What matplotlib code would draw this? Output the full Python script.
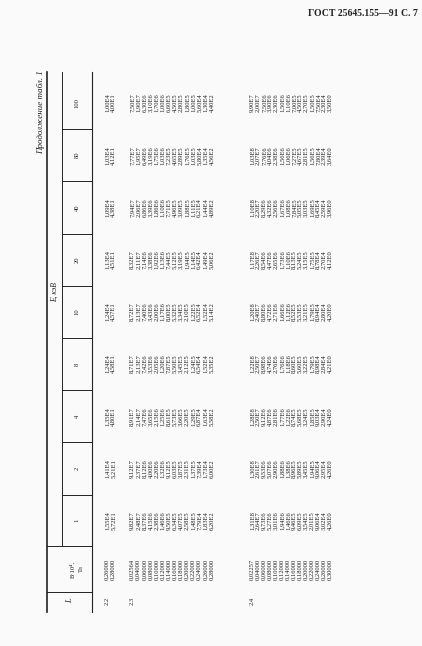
import matplotlib.pyplot as plt
from matplotlib.lines import Line2D

# table data (strings as printed, decimal comma)
energies = ['100', '80', '40', '20', '10', '8', '4', '2', '1']
groups = ['2.2', '2.3', '2.4']

b_22 = ['0,26000', '0,28000']
b_23 = ['0,02564', '0,04000', '0,06000', '0,08000', '0,10000', '0,12000', '0,14000',
        '0,16000', '0,18000', '0,20000', '0,22000', '0,24000', '0,26000', '0,28000']
b_24 = ['0,02257', '0,04000', '0,06000', '0,08000', '0,10000', '0,12000', '0,14000',
        '0,16000', '0,18000', '0,20000', '0,22000', '0,24000', '0,26000', '0,30000']

# columns in order 1, 2, 4, 8, 10, 20, 40, 80, 100
v_22 = [
    ['1,55E4', '5,72E1'], ['1,41E4', '5,21E1'], ['1,35E4', '4,80E1'],
    ['1,24E4', '4,58E1'], ['1,24E4', '4,57E1'], ['1,13E4', '4,51E1'],
    ['1,09E4', '4,38E1'], ['1,03E4', '4,12E1'], ['1,00E4', '4,00E1'],
]
v_23 = [
    '9,82E7 2,48E7 8,37E6 4,15E6 2,38E6 1,46E6 9,50E5 6,34E5 4,07E5 2,58E5 1,48E5 7,79E4 1,83E4 6,20E2'.split(),
    '9,12E7 2,37E7 8,12E6 4,00E6 2,20E6 1,32E6 9,12E5 6,03E5 3,87E5 2,31E5 1,37E5 7,39E4 1,73E4 6,00E2'.split(),
    '8,91E7 2,14E7 7,47E6 3,65E6 2,15E6 1,25E6 8,61E5 5,73E5 3,66E5 2,20E5 1,29E5 6,87E4 1,63E4 5,58E2'.split(),
    '8,71E7 2,13E7 7,42E6 3,53E6 2,05E6 1,20E6 7,87E5 5,50E5 3,45E5 2,12E5 1,24E5 6,54E4 1,52E4 5,35E2'.split(),
    '8,72E7 2,13E7 7,40E6 3,43E6 2,00E6 1,17E6 8,00E5 5,32E5 3,34E5 2,10E5 1,22E5 6,52E4 1,52E4 5,14E2'.split(),
    '8,32E7 2,11E7 7,14E6 3,38E6 1,92E6 1,13E6 7,44E5 5,12E5 3,19E5 1,94E5 1,14E5 6,42E4 1,49E4 5,06E2'.split(),
    '7,94E7 2,06E7 6,86E6 3,39E6 1,86E6 1,10E6 7,71E5 4,96E5 3,09E5 1,88E5 1,11E5 6,21E4 1,44E4 4,89E2'.split(),
    '7,77E7 1,95E7 6,49E6 3,19E6 1,75E6 1,03E6 7,23E5 4,65E5 2,89E5 1,76E5 1,03E5 5,80E4 1,35E4 4,56E2'.split(),
    '7,50E7 1,90E7 6,30E6 3,10E6 1,70E6 1,00E6 6,60E5 4,50E5 2,80E5 1,80E5 1,00E5 5,60E4 1,30E4 4,40E2'.split(),
]
v_24 = [
    '1,31E8 2,64E7 9,73E6 5,27E6 3,01E6 1,94E6 1,46E6 9,46E5 6,09E5 3,54E5 2,01E5 9,06E4 3,02E4 4,26E0'.split(),
    '1,30E8 2,61E7 9,53E6 5,07E6 2,90E6 1,88E6 1,38E6 8,96E5 5,89E5 3,45E5 1,94E5 9,06E4 2,95E4 4,26E0'.split(),
    '1,28E8 2,50E7 9,12E6 4,87E6 2,81E6 1,77E6 1,22E6 8,74E5 5,68E5 3,24E5 1,85E5 9,03E4 2,90E4 4,24E0'.split(),
    '1,22E8 2,50E7 8,98E6 4,74E6 2,76E6 1,76E6 1,18E6 8,60E5 5,60E5 3,22E5 1,79E5 8,98E4 2,84E4 4,21E0'.split(),
    '1,20E8 2,40E7 8,80E6 4,72E6 2,71E6 1,66E6 1,12E6 8,52E5 5,53E5 3,21E5 1,79E5 8,94E4 2,80E4 4,20E0'.split(),
    '1,17E8 2,26E7 8,54E6 4,47E6 2,65E6 1,73E6 1,10E6 8,13E5 5,24E5 3,15E5 1,75E5 8,78E4 2,70E4 4,12E0'.split(),
    '1,10E8 2,20E7 8,29E6 4,32E6 2,56E6 1,67E6 1,08E6 7,84E5 5,05E5 3,03E5 1,69E5 8,45E4 2,59E4 3,96E0'.split(),
    '1,03E8 2,07E7 7,76E6 4,04E6 2,38E6 1,56E6 1,06E6 7,27E5 4,67E5 2,81E5 1,56E5 7,80E4 2,39E4 3,64E0'.split(),
    '9,90E7 2,00E7 7,50E6 3,90E6 2,30E6 1,50E6 1,10E6 7,00E5 4,50E5 2,70E5 1,50E5 7,50E4 2,30E4 3,50E0'.split(),
]

W, H = 422, 646
fig = plt.figure(figsize=(W / 100, H / 100), dpi=100)
fig.patch.set_facecolor('#fafafa')
ax = fig.add_axes([0, 0, 1, 1])
ax.set_xlim(0, W)
ax.set_ylim(H, 0)
ax.axis('off')

FONT = 'Liberation Serif'
FS = 4.7
ink = '#222222'

def rtext(x, y, s, size=FS, **kw):
    ax.text(x, y, s, rotation=90, ha='center', va='center', rotation_mode='anchor',
            fontsize=size, family=FONT, color=ink, **kw)

# column centres (image y), energy 100 at top ... 1 at bottom
col_y = [103 + 52.2 * i for i in range(9)]
b_y, l_y = 569, 601
top, bot = 72, 612

# grid lines of the header
ax.add_line(Line2D([47, 47], [top, bot], color=ink, lw=1.2))
ax.add_line(Line2D([92, 92], [top, bot], color=ink, lw=0.8))
ax.add_line(Line2D([62, 62], [top, 546], color=ink, lw=0.7))
for i in range(8):
    yb = (col_y[i] + col_y[i + 1]) / 2
    ax.add_line(Line2D([62, 92], [yb, yb], color=ink, lw=0.7))
for yb in [546, 592]:
    ax.add_line(Line2D([47, 92], [yb, yb], color=ink, lw=0.7))

# header text
rtext(55, 292, 'E, кэВ', size=5.5, style='italic')
for y, e in zip(col_y, energies):
    rtext(77, y, e)
rtext(72, b_y, 'B·10⁴,')
rtext(81, b_y, 'Тл')
rtext(70, l_y, 'L', style='italic', size=6)

ax.text(418, 14, 'ГОСТ 25645.155—91 С. 7', ha='right', va='center', fontsize=7,
        family=FONT, fontweight='bold', color=ink)
rtext(41, 112, 'Продолжение табл. 1', size=6.5, style='italic')

# body rows
rows_x = {'2.2': [107 + 6.1 * i for i in range(2)],
          '2.3': [132 + 6.1 * i for i in range(14)],
          '2.4': [252 + 6.0 * i for i in range(14)]}
bvals = {'2.2': b_22, '2.3': b_23, '2.4': b_24}
vals = {'2.2': v_22, '2.3': v_23, '2.4': v_24}

for g in groups:
    xs = rows_x[g]
    rtext(xs[0], l_y, g)
    for j, x in enumerate(xs):
        rtext(x, b_y, bvals[g][j])
        # vals columns ordered 1..100, col_y ordered 100..1
        for k in range(9):
            rtext(x, col_y[8 - k], vals[g][k][j])

fig.savefig('out.png', dpi=100, facecolor=fig.get_facecolor())
